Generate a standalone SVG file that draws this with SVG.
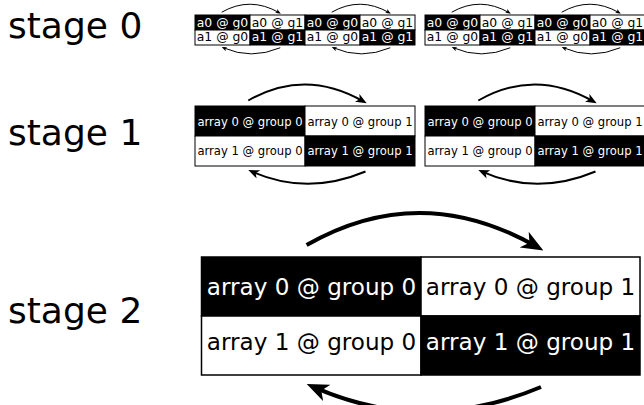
<svg xmlns="http://www.w3.org/2000/svg" width="644" height="405" viewBox="0 0 644 405">
<style>
text{font-family:"DejaVu Sans","Liberation Sans",sans-serif}
.lbl{font-size:36px;fill:#000}
.b{fill:#000;stroke:#000}
.w{fill:#fff;stroke:#000}
.s0 rect{stroke-width:1}
.s1 rect{stroke-width:1}
.s2 rect{stroke-width:1.5}
.tb{fill:#fff;text-anchor:middle}
.tw{fill:#000;text-anchor:middle}
.f0{font-size:12.4px}
.f1{font-size:11.6px}
.f2{font-size:23.1px}
.arc{fill:none;stroke:#000;stroke-width:2;marker-end:url(#ah)}
</style>
<defs>
<marker id="ah" viewBox="0 0 11 9" markerWidth="5.5" markerHeight="4.5" refX="7" refY="4.5" orient="auto" markerUnits="strokeWidth">
<path d="M0,0 L11,4.5 L0,9 L3,4.5 z" fill="#000"/>
</marker>
<g id="arcpair">
<path class="arc" d="M53.3,-5.5 Q110,-38 168.2,-4.7"/>
<path class="arc" d="M170.5,65.5 Q112,90 57,65.6"/>
</g>
</defs>

<g id="labels">
<text class="lbl" x="8" y="38">stage 0</text>
<text class="lbl" x="8" y="145">stage 1</text>
<text class="lbl" x="8" y="323">stage 2</text>
</g>

<!-- stage 0 -->
<g class="s0 f0">
<g id="s0b1a00"><rect class="b" x="195" y="15" width="55" height="15"/><text class="tb" x="222.5" y="26.8">a0 @ g0</text></g>
<g id="s0b1a01"><rect class="w" x="250" y="15" width="55" height="15"/><text class="tw" x="277.5" y="26.8">a0 @ g1</text></g>
<g id="s0b1a10"><rect class="w" x="195" y="30" width="55" height="15"/><text class="tw" x="222.5" y="41.3">a1 @ g0</text></g>
<g id="s0b1a11"><rect class="b" x="250" y="30" width="55" height="15"/><text class="tb" x="277.5" y="41.3">a1 @ g1</text></g>

<g id="s0b2a00"><rect class="b" x="305" y="15" width="55" height="15"/><text class="tb" x="332.5" y="26.8">a0 @ g0</text></g>
<g id="s0b2a01"><rect class="w" x="360" y="15" width="55" height="15"/><text class="tw" x="387.5" y="26.8">a0 @ g1</text></g>
<g id="s0b2a10"><rect class="w" x="305" y="30" width="55" height="15"/><text class="tw" x="332.5" y="41.3">a1 @ g0</text></g>
<g id="s0b2a11"><rect class="b" x="360" y="30" width="55" height="15"/><text class="tb" x="387.5" y="41.3">a1 @ g1</text></g>

<g id="s0b3a00"><rect class="b" x="425" y="15" width="55" height="15"/><text class="tb" x="452.5" y="26.8">a0 @ g0</text></g>
<g id="s0b3a01"><rect class="w" x="480" y="15" width="55" height="15"/><text class="tw" x="507.5" y="26.8">a0 @ g1</text></g>
<g id="s0b3a10"><rect class="w" x="425" y="30" width="55" height="15"/><text class="tw" x="452.5" y="41.3">a1 @ g0</text></g>
<g id="s0b3a11"><rect class="b" x="480" y="30" width="55" height="15"/><text class="tb" x="507.5" y="41.3">a1 @ g1</text></g>

<g id="s0b4a00"><rect class="b" x="535" y="15" width="55" height="15"/><text class="tb" x="562.5" y="26.8">a0 @ g0</text></g>
<g id="s0b4a01"><rect class="w" x="590" y="15" width="55" height="15"/><text class="tw" x="617.5" y="26.8">a0 @ g1</text></g>
<g id="s0b4a10"><rect class="w" x="535" y="30" width="55" height="15"/><text class="tw" x="562.5" y="41.3">a1 @ g0</text></g>
<g id="s0b4a11"><rect class="b" x="590" y="30" width="55" height="15"/><text class="tb" x="617.5" y="41.3">a1 @ g1</text></g>
</g>

<!-- stage 1 -->
<g class="s1 f1">
<g id="s1b1a00"><rect class="b" x="195" y="106" width="110" height="30"/><text class="tb" x="250" y="125.5">array 0 @ group 0</text></g>
<g id="s1b1a01"><rect class="w" x="305" y="106" width="110" height="30"/><text class="tw" x="360" y="125.5">array 0 @ group 1</text></g>
<g id="s1b1a10"><rect class="w" x="195" y="136" width="110" height="30"/><text class="tw" x="250" y="155">array 1 @ group 0</text></g>
<g id="s1b1a11"><rect class="b" x="305" y="136" width="110" height="30"/><text class="tb" x="360" y="155">array 1 @ group 1</text></g>

<g id="s1b2a00"><rect class="b" x="425" y="106" width="110" height="30"/><text class="tb" x="480" y="125.5">array 0 @ group 0</text></g>
<g id="s1b2a01"><rect class="w" x="535" y="106" width="110" height="30"/><text class="tw" x="590" y="125.5">array 0 @ group 1</text></g>
<g id="s1b2a10"><rect class="w" x="425" y="136" width="110" height="30"/><text class="tw" x="480" y="155">array 1 @ group 0</text></g>
<g id="s1b2a11"><rect class="b" x="535" y="136" width="110" height="30"/><text class="tb" x="590" y="155">array 1 @ group 1</text></g>
</g>

<!-- stage 2 -->
<g class="s2 f2">
<g id="s2a00"><rect class="b" x="201.5" y="257" width="219.5" height="59"/><text class="tb" x="311.5" y="294.5">array 0 @ group 0</text></g>
<g id="s2a01"><rect class="w" x="421" y="257" width="219" height="59"/><text class="tw" x="530.5" y="294.5">array 0 @ group 1</text></g>
<g id="s2a10"><rect class="w" x="201.5" y="316" width="219.5" height="59"/><text class="tw" x="311.5" y="349.5">array 1 @ group 0</text></g>
<g id="s2a11"><rect class="b" x="421" y="316" width="219" height="59"/><text class="tb" x="530.5" y="349.5">array 1 @ group 1</text></g>
</g>

<g id="connectors">
<use href="#arcpair" transform="translate(195,15) scale(0.5)"/>
<use href="#arcpair" transform="translate(305,15) scale(0.5)"/>
<use href="#arcpair" transform="translate(425,15) scale(0.5)"/>
<use href="#arcpair" transform="translate(535,15) scale(0.5)"/>
<use href="#arcpair" transform="translate(195,106)"/>
<use href="#arcpair" transform="translate(425,106)"/>
<use href="#arcpair" transform="translate(200,256) scale(2)"/>
</g>
</svg>
